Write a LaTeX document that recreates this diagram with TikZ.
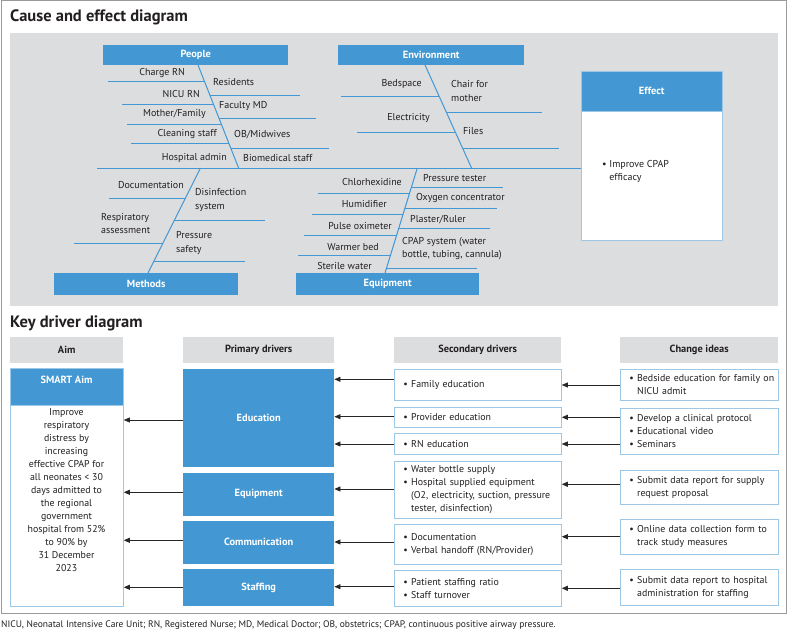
\documentclass[tikz,border=0pt]{standalone}
\usepackage{fontspec}
\setmainfont{PT Sans}
\usetikzlibrary{arrows.meta,calc}
\definecolor{cblue}{HTML}{4398D3}
\definecolor{lblue}{HTML}{9CC7E6}
\definecolor{bggray}{HTML}{DCDDDF}
\definecolor{framegray}{HTML}{9A9A9A}
\definecolor{txt}{HTML}{231F20}
\begin{document}
\begin{tikzpicture}[x=1pt,y=-1pt,
  bone/.style={draw=cblue,line width=1pt},
  lab/.style={font=\fontsize{10}{13.2}\selectfont, text=txt, inner sep=0pt, align=left},
  bluebox/.style={fill=cblue, draw=none, text=white, font=\bfseries\fontsize{10.4}{12}\selectfont, inner sep=0pt, anchor=north west},
  grayhead/.style={fill=bggray, draw=none, text=txt, font=\bfseries\fontsize{10.4}{12}\selectfont, inner sep=0pt, anchor=north west},
  wbox/.style={fill=white, draw=lblue, line width=0.8pt, text=txt, font=\fontsize{9.9}{13}\selectfont, inner ysep=0pt, inner xsep=3pt, anchor=north west, align=left, execute at begin node={\leftskip=6pt\relax}},
  arr/.style={draw=black!85, line width=0.7pt, -{Triangle[length=6pt,width=5pt]}},
  title/.style={font=\bfseries\fontsize{16.5}{20}\selectfont, text=txt, inner sep=0pt, anchor=west}
]
\useasboundingbox (0,0) rectangle (788,631);
\fill[white] (0,0) rectangle (788,631);
\draw[framegray, line width=1pt] (1.3,0.6) rectangle (786,613);

% ---------- Cause and effect ----------
\node[title] (t1) at (10,17) {Cause and effect diagram};
\fill[bggray] (10,33) rectangle (778,306);

\node[bluebox, minimum width=185, minimum height=20] (people) at (103,45) {People};
\node[bluebox, minimum width=186, minimum height=20] (environment) at (338,45) {Environment};
\node[bluebox, minimum width=184, minimum height=22] (methods) at (54,273) {Methods};
\node[bluebox, minimum width=183, minimum height=22] (equipment) at (296,273) {Equipment};
\node[bluebox, minimum width=141, minimum height=40] (effhead) at (581,71) {Effect};
\node[wbox, minimum width=141, minimum height=129] (effbody) at (581,111) {};
\draw[lblue, line width=0.8pt] (effhead.north west) rectangle (effbody.south east);
\node[lab, anchor=west] (efftxt) at (602,171.3) {\textbullet\ Improve CPAP\\\hphantom{\textbullet\ }efficacy};

% spine
\coordinate (tail) at (97,169);
\draw[bone] (tail) -- (effbody.west |- tail);

% People bone
\coordinate (pA) at (198,65); \coordinate (pB) at (239,169);
\draw[bone] (pA) -- (pB);
\draw[bone] (204.6,81.7) -- (108,81.7);
\draw[bone] (213.6,104.7) -- (122,104.7);
\draw[bone] (221.4,124.3) -- (127,124.3);
\draw[bone] (229,143.7) -- (131,143.7);
\draw[bone] (210.1,95.7) -- (300,95.7);
\draw[bone] (219.3,119) -- (316,119);
\draw[bone] (230.8,148.3) -- (329,148.3);
\node[lab, anchor=east] (l1) at (185,72.7) {Charge RN};
\node[lab, anchor=east] (l2) at (200,94.3) {NICU RN};
\node[lab, anchor=east] (l3) at (206,114) {Mother/Family};
\node[lab, anchor=east] (l4) at (217,134.3) {Cleaning staff};
\node[lab, anchor=east] (l5) at (227,158.3) {Hospital admin};
\node[lab, anchor=west] (r1) at (213,81.7) {Residents};
\node[lab, anchor=west] (r2) at (219,106.3) {Faculty MD};
\node[lab, anchor=west] (r3) at (234,134.3) {OB/Midwives};
\node[lab, anchor=west] (r4) at (243,158.3) {Biomedical staff};

% Environment bone
\coordinate (eA) at (425,65); \coordinate (eB) at (472,169);
\draw[bone] (eA) -- (eB);
\draw[bone] (439.3,96.7) -- (341,96.7);
\draw[bone] (455.6,132.7) -- (357,132.7);
\draw[bone] (446.4,112.3) -- (542,112.3);
\draw[bone] (462.6,148.3) -- (559,148.3);
\node[lab, anchor=east] (el1) at (422,84.3) {Bedspace};
\node[lab, anchor=east] (el2) at (430,118.3) {Electricity};
\node[lab, anchor=west] (er1) at (451,91) {Chair for\\mother};
\node[lab, anchor=west] (er2) at (463,130.7) {Files};

% Methods bone
\coordinate (mA) at (200,169); \coordinate (mB) at (148,273);
\draw[bone] (mA) -- (mB);
\draw[bone] (185.4,198.3) -- (109,198.3);
\draw[bone] (162.6,243.7) -- (74,243.7);
\draw[bone] (174.2,220.7) -- (265,220.7);
\draw[bone] (153.6,261.7) -- (245,261.7);
\node[lab, anchor=east] (ml1) at (184,185) {Documentation};
\node[lab, anchor=west] (ml2) at (101,223.3) {Respiratory\\assessment};
\node[lab, anchor=west] (mr1) at (195,200) {Disinfection\\system};
\node[lab, anchor=west] (mr2) at (176,243) {Pressure\\safety};

% Equipment bone
\coordinate (qA) at (417,169); \coordinate (qB) at (385,273);
\draw[bone] (qA) -- (qB);
\draw[bone] (409.3,194) -- (318,194);
\draw[bone] (402.8,215) -- (312,215);
\draw[bone] (396.4,236) -- (304,236);
\draw[bone] (390.3,255.7) -- (298,255.7);
\draw[bone] (411.4,187.3) -- (503,187.3);
\draw[bone] (404.9,208.3) -- (497,208.3);
\draw[bone] (398.5,229) -- (490,229);
\draw[bone] (386.4,268.3) -- (477,268.3);
\node[lab, anchor=east] (ql1) at (402,182.3) {Chlorhexidine};
\node[lab, anchor=east] (ql2) at (387,204) {Humidifier};
\node[lab, anchor=east] (ql3) at (392,225.7) {Pulse oximeter};
\node[lab, anchor=east] (ql4) at (379,247.3) {Warmer bed};
\node[lab, anchor=east] (ql5) at (372,265.7) {Sterile water};
\node[lab, anchor=west] (qr1) at (423,178.3) {Pressure tester};
\node[lab, anchor=west] (qr2) at (416,198.3) {Oxygen concentrator};
\node[lab, anchor=west] (qr3) at (410,220) {Plaster/Ruler};
\node[lab, anchor=west] (qr4) at (402,248.8) {CPAP system (water\\bottle, tubing, cannula)};

% ---------- Key driver ----------
\node[title] (t2) at (10,323) {Key driver diagram};
\node[grayhead, minimum width=113, minimum height=26] (aimh) at (10,337) {Aim};
\node[grayhead, minimum width=151, minimum height=26] (primh) at (183,337) {Primary drivers};
\node[grayhead, minimum width=167, minimum height=26] (sech) at (394,337) {Secondary drivers};
\node[grayhead, minimum width=158, minimum height=26] (chgh) at (620,337) {Change ideas};

% Aim
\node[bluebox, minimum width=113, minimum height=37] (smart) at (10,368) {};
\node[lab, text=white, font=\bfseries\fontsize{10.4}{12}\selectfont] (smarttxt) at (66.5,380) {SMART Aim};
\node[wbox, minimum width=113, minimum height=201] (aimbody) at (10,405) {};
\draw[lblue, line width=0.8pt] (smart.north west) rectangle (aimbody.south east);
\node[lab, anchor=north, align=center, font=\fontsize{9.9}{12.95}\selectfont] (aimtxt) at (66.5,408.5) {Improve\\respiratory\\distress by\\increasing\\effective CPAP for\\all neonates < 30\\days admitted to\\the regional\\government\\hospital from 52\%\\to 90\% by\\31 December\\2023};

% Primary
\node[bluebox, minimum width=151, minimum height=98] (p1) at (183,368.7) {Education};
\node[bluebox, minimum width=151, minimum height=42.6] (p2) at (183,472.7) {Equipment};
\node[bluebox, minimum width=151, minimum height=42.3] (p3) at (183,521) {Communication};
\node[bluebox, minimum width=151, minimum height=37.3] (p4) at (183,568.7) {Staffing};

% Secondary
\node[wbox, text width=161, minimum height=30.7] (s1) at (394,369.3) {\textbullet\ Family education};
\node[wbox, text width=161, minimum height=20] (s2) at (394,406.7) {\textbullet\ Provider education};
\node[wbox, text width=161, minimum height=20.7] (s3) at (394,433.3) {\textbullet\ RN education};
\node[wbox, text width=161, minimum height=57.3] (s4) at (394,461) {\textbullet\ Water bottle supply\\\textbullet\ Hospital supplied equipment\\\hphantom{\textbullet\ }(O2, electricity, suction, pressure\\\hphantom{\textbullet\ }tester, disinfection)};
\node[wbox, text width=161, minimum height=40] (s5) at (394,524.3) {\textbullet\ Documentation\\\textbullet\ Verbal handoff (RN/Provider)};
\node[wbox, text width=161, minimum height=35.7] (s6) at (394,570) {\textbullet\ Patient staffing ratio\\\textbullet\ Staff turnover};

% Change ideas
\node[wbox, text width=152, minimum height=31] (c1) at (620,369) {\textbullet\ Bedside education for family on\\\hphantom{\textbullet\ }NICU admit};
\node[wbox, text width=152, minimum height=46.3] (c2) at (620,407.7) {\textbullet\ Develop a clinical protocol\\\textbullet\ Educational video\\\textbullet\ Seminars};
\node[wbox, text width=152, minimum height=34] (c3) at (620,470) {\textbullet\ Submit data report for supply\\\hphantom{\textbullet\ }request proposal};
\node[wbox, text width=152, minimum height=35.6] (c4) at (620,518.7) {\textbullet\ Online data collection form to\\\hphantom{\textbullet\ }track study measures};
\node[wbox, text width=152, minimum height=36.3] (c5) at (620,568.7) {\textbullet\ Submit data report to hospital\\\hphantom{\textbullet\ }administration for staffing};

% Arrows primary -> aim
\draw[arr] (p1.west |- 0,420) -- (aimbody.east |- 0,420);
\draw[arr] (p2.west |- 0,492.3) -- (aimbody.east |- 0,492.3);
\draw[arr] (p3.west |- 0,540.3) -- (aimbody.east |- 0,540.3);
\draw[arr] (p4.west |- 0,587.3) -- (aimbody.east |- 0,587.3);
% secondary -> primary
\draw[arr] (s1.west |- 0,379.3) -- (p1.east |- 0,379.3);
\draw[arr] (s2.west |- 0,416.7) -- (p1.east |- 0,416.7);
\draw[arr] (s3.west |- 0,444) -- (p1.east |- 0,444);
\draw[arr] (s4.west |- 0,489) -- (p2.east |- 0,489);
\draw[arr] (s5.west |- 0,542) -- (p3.east |- 0,542);
\draw[arr] (s6.west |- 0,586.7) -- (p4.east |- 0,586.7);
% change -> secondary
\draw[arr] (c1.west |- 0,385) -- (s1.east |- 0,385);
\draw[arr] (c2.west |- 0,417.3) -- (s2.east |- 0,417.3);
\draw[arr] (c2.west |- 0,444) -- (s3.east |- 0,444);
\draw[arr] (c3.west |- 0,484.3) -- (s4.east |- 0,484.3);
\draw[arr] (c4.west |- 0,536.7) -- (s5.east |- 0,536.7);
\draw[arr] (c5.west |- 0,588.3) -- (s6.east |- 0,588.3);

\node[lab, anchor=west, font=\fontsize{9.5}{11}\selectfont] (foot) at (1,625) {NICU, Neonatal Intensive Care Unit; RN, Registered Nurse; MD, Medical Doctor; OB, obstetrics; CPAP, continuous positive airway pressure.};
\end{tikzpicture}
\end{document}
